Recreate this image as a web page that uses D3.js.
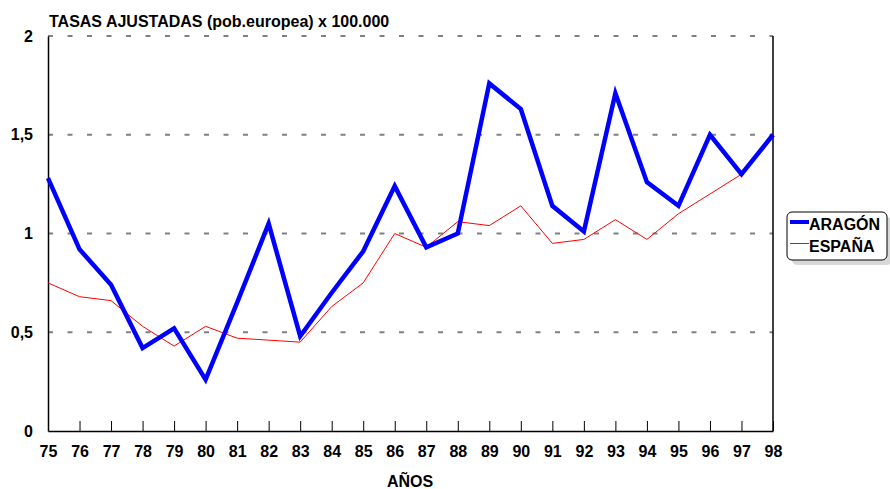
<!DOCTYPE html>
<html>
<head>
<meta charset="utf-8">
<script src="https://cdn.jsdelivr.net/npm/d3@7"></script>
<style>
  body { margin: 0; background: #fff; }
  svg text { font-family: Arial, "Liberation Sans", sans-serif; font-weight: bold; fill: #000; }
</style>
</head>
<body>
<svg id="chart" width="890" height="489"></svg>
<script>
// Años (etiquetas del eje X)
const years = ["75","76","77","78","79","80","81","82","83","84","85","86","87","88","89","90","91","92","93","94","95","96","97","98"];
// Tasas ajustadas por población europea x 100.000
const aragon = [1.28,0.92,0.74,0.42,0.52,0.26,0.65,1.05,0.48,0.70,0.91,1.24,0.93,1.00,1.76,1.63,1.14,1.01,1.71,1.26,1.14,1.50,1.30,1.50];
const espana = [0.75,0.68,0.66,0.53,0.43,0.53,0.47,0.46,0.45,0.63,0.75,1.00,0.93,1.06,1.04,1.14,0.95,0.97,1.07,0.97,1.10,1.20,1.30,null];
const yTicks = [0, 0.5, 1, 1.5, 2];
const yTickLabels = ["0", "0,5", "1", "1,5", "2"];
const seriesNames = ["ARAGÓN", "ESPAÑA"];

const svg = d3.select("#chart");
const plotLeft = 48, plotRight = 773, plotTop = 36, plotBottom = 431;

const x = d3.scalePoint().domain(years).range([plotLeft, plotRight]);
const y = d3.scaleLinear().domain([0, 2]).range([plotBottom, plotTop]);

// Líneas de rejilla discontinuas
svg.append("g").selectAll("line")
  .data(yTicks.filter(d => d > 0))
  .join("line")
  .attr("x1", plotLeft).attr("x2", plotRight)
  .attr("y1", d => y(d)).attr("y2", d => y(d))
  .attr("stroke", "#808080").attr("stroke-width", 2)
  .attr("stroke-dasharray", "5,14.5");

// Borde derecho del área de trazado
svg.append("line")
  .attr("x1", plotRight).attr("x2", plotRight).attr("y1", plotTop).attr("y2", plotBottom)
  .attr("stroke", "#000").attr("stroke-width", 1.5);

const axisFont = sel => sel.style("font-size", "16px")
  .style("font-family", "Arial, 'Liberation Sans', sans-serif")
  .style("font-weight", "bold").attr("fill", "#000");

// Eje Y
const yAxis = svg.append("g")
  .attr("transform", `translate(${plotLeft},0)`)
  .call(d3.axisLeft(y).tickValues(yTicks).tickSize(0).tickPadding(15)
    .tickFormat((d, i) => yTickLabels[i]));
yAxis.select(".domain").attr("stroke", "#000").attr("stroke-width", 1.5);
axisFont(yAxis.selectAll("text"));

// Eje X con marcas hacia dentro
const xAxis = svg.append("g")
  .attr("transform", `translate(0,${plotBottom})`)
  .call(d3.axisBottom(x).tickSizeInner(-10).tickSizeOuter(0).tickPadding(15));
xAxis.select(".domain").attr("stroke", "#000").attr("stroke-width", 1.5);
xAxis.selectAll(".tick line").attr("stroke", "#000").attr("stroke-width", 1);
axisFont(xAxis.selectAll("text"));

// Series
const line = d3.line()
  .defined(d => d.v !== null)
  .x(d => x(d.year))
  .y(d => y(d.v));

const toPts = arr => arr.map((v, i) => ({ year: years[i], v }));

svg.append("path")
  .datum(toPts(espana))
  .attr("fill", "none").attr("stroke", "#ff0000").attr("stroke-width", 1)
  .attr("d", line);

svg.append("path")
  .datum(toPts(aragon))
  .attr("fill", "none").attr("stroke", "#0000ff").attr("stroke-width", 4.5)
  .attr("stroke-linejoin", "miter")
  .attr("d", line);

// Título
svg.append("text")
  .attr("x", 49).attr("y", 27)
  .style("font-size", "16px")
  .text("TASAS AJUSTADAS (pob.europea) x 100.000");

// Título del eje X
svg.append("text")
  .attr("x", 410).attr("y", 487)
  .attr("text-anchor", "middle")
  .style("font-size", "16px")
  .text("AÑOS");

// Leyenda con sombra
const lg = svg.append("g").attr("transform", "translate(787,212)");
lg.append("rect")
  .attr("x", 5).attr("y", 5).attr("width", 100).attr("height", 48).attr("rx", 5)
  .attr("fill", "#d8d8d8");
lg.append("rect")
  .attr("x", 0).attr("y", 0).attr("width", 100).attr("height", 48).attr("rx", 5)
  .attr("fill", "#fff").attr("stroke", "#000").attr("stroke-width", 1);
const colors = ["#0000ff", "#ff0000"];
const widths = [4, 1];
seriesNames.forEach((name, i) => {
  const cy = 10 + i * 21.5;
  lg.append("line")
    .attr("x1", 3).attr("x2", 22).attr("y1", cy).attr("y2", cy)
    .attr("stroke", colors[i]).attr("stroke-width", widths[i]);
  lg.append("text")
    .attr("x", 22).attr("y", cy + 8)
    .style("font-size", "16px")
    .text(name);
});
</script>
</body>
</html>
